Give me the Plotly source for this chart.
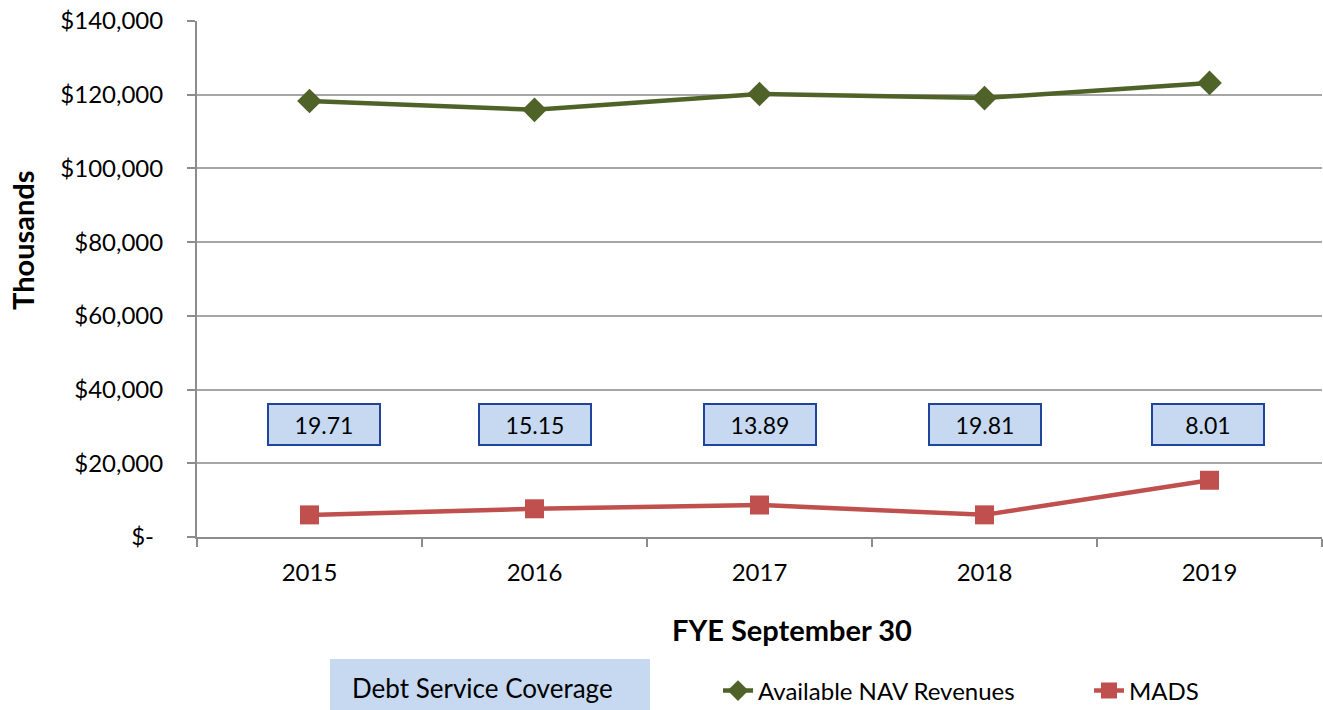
import plotly.graph_objects as go

years = ["2015", "2016", "2017", "2018", "2019"]
nav_revenues = [118300, 115900, 120200, 119100, 123200]
mads = [6000, 7650, 8680, 6010, 15400]
dsc = ["19.71", "15.15", "13.89", "19.81", "8.01"]
y_ticks = [0, 20000, 40000, 60000, 80000, 100000, 120000, 140000]
y_tick_text = ["$-\u00a0\u2009", "$20,000", "$40,000", "$60,000", "$80,000",
               "$100,000", "$120,000", "$140,000"]
dsc_label_y = 30600
dsc_xshift = [14, 0, 0, 0, -2]

FONT = "Lato, Carlito, Calibri, sans-serif"
GREEN = "#4F6228"
RED = "#C0504D"
GRID = "#A6A6A6"

fig = go.Figure()
fig.add_trace(go.Scatter(
    x=years, y=nav_revenues, name="Available NAV Revenues", mode="lines+markers",
    line=dict(color=GREEN, width=4.5),
    marker=dict(symbol="diamond", size=19, color=GREEN),
))
fig.add_trace(go.Scatter(
    x=years, y=mads, name="MADS", mode="lines+markers",
    line=dict(color=RED, width=4.5),
    marker=dict(symbol="square", size=19, color=RED),
))

annotations = []
for i, (d, xs) in enumerate(zip(dsc, dsc_xshift)):
    annotations.append(dict(
        x=i, y=dsc_label_y, xref="x", yref="y", text=d, showarrow=False,
        xshift=xs,
        font=dict(family=FONT, size=23, color="#000000"),
        bgcolor="#C6D9F1", bordercolor="#1F449C", borderwidth=2,
        width=108, height=37, borderpad=1,
        xanchor="center", yanchor="middle",
    ))
annotations.append(dict(
    x=(792 - 197) / 1125, y=(537 - 629) / 516, xref="paper", yref="paper",
    text="<b>FYE September 30</b>",
    showarrow=False, font=dict(family=FONT, size=29, color="#000000"),
    xanchor="center", yanchor="middle",
))
annotations.append(dict(
    x=(22 - 197) / 1125, y=(537 - 240) / 516, xref="paper", yref="paper",
    text="<b>Thousands</b>",
    showarrow=False, textangle=-90, font=dict(family=FONT, size=29, color="#000000"),
    xanchor="center", yanchor="middle",
))
annotations.append(dict(
    x=(482 - 197) / 1125, y=(537 - 688) / 516, xref="paper", yref="paper",
    text="Debt Service Coverage", showarrow=False,
    font=dict(family=FONT, size=26, color="#000000"),
    xanchor="center", yanchor="middle",
))

shapes = [dict(
    type="rect", xref="paper", yref="paper",
    x0=(330 - 197) / 1125, x1=(650 - 197) / 1125,
    y0=(537 - 712) / 516, y1=(537 - 659) / 516,
    fillcolor="#C6D9F1", line=dict(width=0), layer="below",
)]

fig.update_layout(
    width=1323, height=710,
    margin=dict(l=197, r=1, t=21, b=173, autoexpand=False),
    paper_bgcolor="white", plot_bgcolor="white",
    font=dict(family=FONT, size=24, color="#000000"),
    showlegend=True,
    legend=dict(
        orientation="h", x=(718 - 197) / 1125, y=(537 - 691) / 516,
        xanchor="left", yanchor="middle",
        font=dict(family=FONT, size=24, color="#000000"),
        itemwidth=30, entrywidth=326, tracegroupgap=0, bgcolor="rgba(0,0,0,0)",
    ),
    xaxis=dict(
        type="category", categoryorder="array", categoryarray=years,
        range=[-0.5, 4.5], showgrid=False,
        showline=True, linecolor="#8C8C8C", linewidth=2,
        ticks="outside", tickson="boundaries", ticklen=8, tickwidth=2,
        tickcolor="#8C8C8C", ticklabelstandoff=13,
        tickfont=dict(family=FONT, size=24, color="#000000"),
        zeroline=False, fixedrange=True,
    ),
    yaxis=dict(
        range=[0, 140000], tickvals=y_ticks, ticktext=y_tick_text,
        showgrid=True, gridcolor=GRID, gridwidth=2,
        showline=True, linecolor="#8C8C8C", linewidth=2,
        ticks="outside", ticklen=8, tickwidth=2, tickcolor="#8C8C8C",
        ticklabelstandoff=19,
        tickfont=dict(family=FONT, size=24, color="#000000"),
        zeroline=False, fixedrange=True,
    ),
    annotations=annotations,
    shapes=shapes,
)

fig.write_html(
    "out.html",
    config={"displayModeBar": False},
    post_script="document.body.style.margin='0';document.body.style.padding='0';",
)
